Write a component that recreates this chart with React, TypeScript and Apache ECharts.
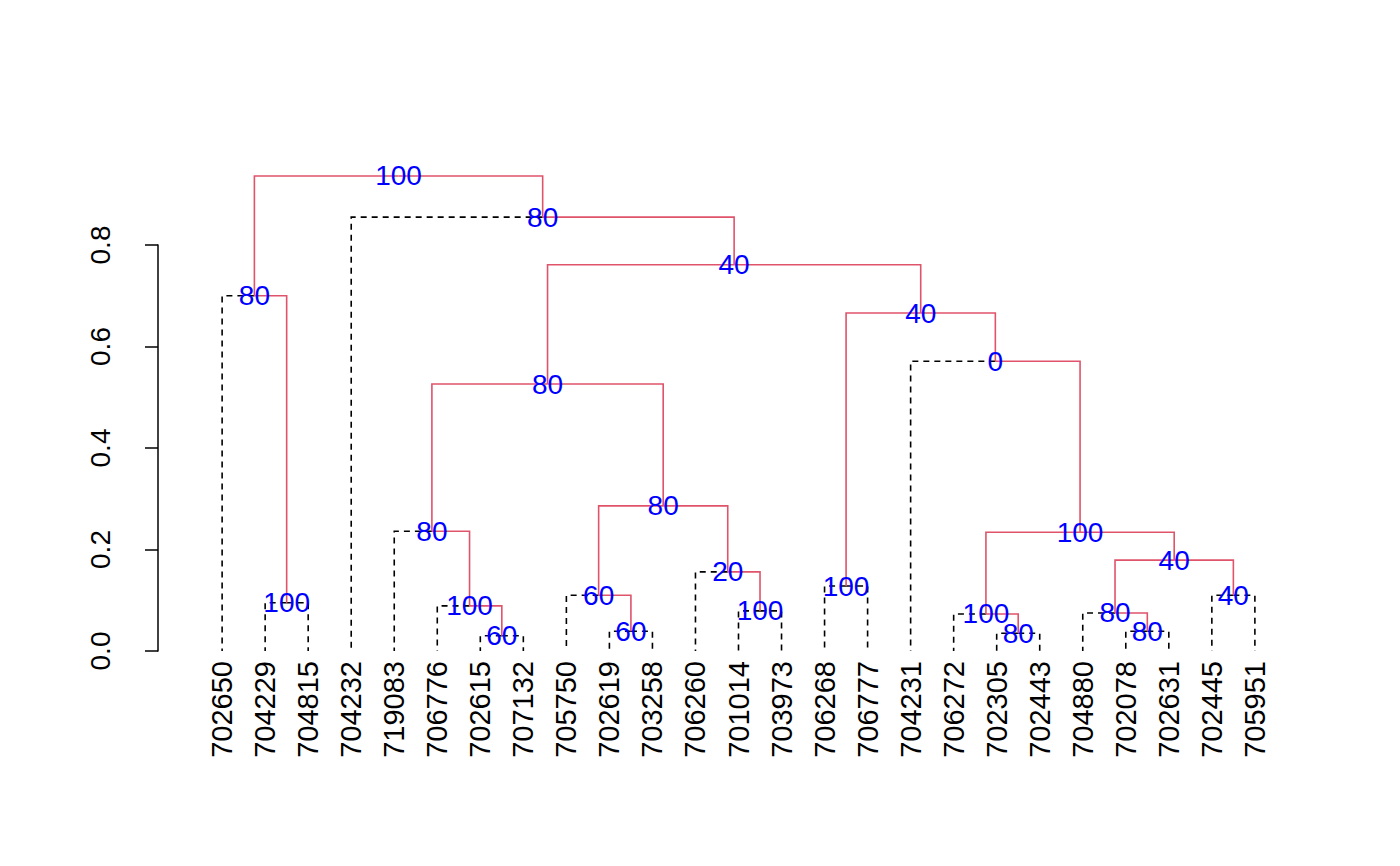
import { useEffect, useRef } from 'react';
import * as echarts from 'echarts';

const leaves = [
  '702650', '704229', '704815', '704232', '719083', '706776', '702615', '707132',
  '705750', '702619', '703258', '706260', '701014', '703973', '706268', '706777',
  '704231', '706272', '702305', '702443', '704880', '702078', '702631', '702445', '705951',
];

// id, left child, right child, merge height, bootstrap label
const merges: [string, string, string, number, number][] = [
  ['A', '704229', '704815', 0.095, 100],
  ['B', '702650', 'A', 0.70, 80],
  ['P1', '702615', '707132', 0.030, 60],
  ['P2', '706776', 'P1', 0.089, 100],
  ['P3', '719083', 'P2', 0.236, 80],
  ['Q1', '702619', '703258', 0.039, 60],
  ['Q2', '705750', 'Q1', 0.110, 60],
  ['R1', '701014', '703973', 0.079, 100],
  ['R2', '706260', 'R1', 0.156, 20],
  ['QR', 'Q2', 'R2', 0.286, 80],
  ['E', 'P3', 'QR', 0.526, 80],
  ['S', '706268', '706777', 0.128, 100],
  ['T1', '702305', '702443', 0.035, 80],
  ['T2', '706272', 'T1', 0.073, 100],
  ['U1', '702078', '702631', 0.039, 80],
  ['U2', '704880', 'U1', 0.075, 80],
  ['V', '702445', '705951', 0.110, 40],
  ['W', 'U2', 'V', 0.179, 40],
  ['X', 'T2', 'W', 0.234, 100],
  ['Y', '704231', 'X', 0.571, 0],
  ['Z', 'S', 'Y', 0.666, 40],
  ['D', 'E', 'Z', 0.761, 40],
  ['C', '704232', 'D', 0.855, 80],
  ['root', 'B', 'C', 0.936, 100],
];

const RED = '#DF536B';
const FONT = 'Liberation Sans, Arial, sans-serif';

function App() {
  const ref = useRef<HTMLDivElement>(null);

  useEffect(() => {
    if (!ref.current) return;
    const chart = echarts.init(ref.current, undefined, { renderer: 'svg' });

    const pos: Record<string, [number, number]> = {};
    leaves.forEach((l, i) => { pos[l] = [i, 0]; });
    const edges: number[][] = [];
    const nodeLabels: (number | string)[][] = [];
    merges.forEach(([id, l, r, h, lab]) => {
      const x = (pos[l][0] + pos[r][0]) / 2;
      pos[id] = [x, h];
      [l, r].forEach((c) => {
        const isLeaf = leaves.includes(c) ? 1 : 0;
        edges.push([x, h, pos[c][0], pos[c][1], isLeaf]);
      });
      nodeLabels.push([x, h, String(lab)]);
    });
    const leafData = leaves.map((l, i) => [i, 0, l]);

    chart.setOption({
      animation: false,
      backgroundColor: '#fff',
      grid: { left: 150, right: 73, top: 237, bottom: 207 },
      xAxis: { type: 'value', min: -1.49, max: 25.49, show: false },
      yAxis: {
        type: 'value', min: 0, max: 0.8, interval: 0.2,
        splitLine: { show: false },
        axisLine: { show: true, onZero: false, lineStyle: { color: '#000', width: 1.5 } },
        axisTick: { show: true, length: 13, lineStyle: { color: '#000', width: 1.5 } },
        axisLabel: {
          rotate: 90, margin: 44, color: '#000', fontSize: 28, fontFamily: FONT,
          formatter: (v: number) => v.toFixed(1),
        },
      },
      series: [
        {
          type: 'custom', clip: false, data: edges,
          renderItem: (_p: any, api: any) => {
            const p1 = api.coord([api.value(0), api.value(1)]);
            const p2 = api.coord([api.value(2), api.value(1)]);
            const p3 = api.coord([api.value(2), api.value(3)]);
            const leaf = api.value(4) === 1;
            return {
              type: 'polyline',
              shape: { points: [p1, p2, p3] },
              style: {
                stroke: leaf ? '#000' : RED, lineWidth: 1.6, fill: 'none',
                lineDash: leaf ? [6, 5] : null,
              },
            };
          },
        },
        {
          type: 'custom', clip: false, data: nodeLabels, z: 5,
          renderItem: (_p: any, api: any) => {
            const p = api.coord([api.value(0), api.value(1)]);
            return {
              type: 'text', x: p[0], y: p[1],
              style: {
                text: String(api.value(2)), fill: '#0000FF', fontSize: 28, fontFamily: FONT,
                align: 'center', verticalAlign: 'middle',
              },
            };
          },
        },
        {
          type: 'custom', clip: false, data: leafData,
          encode: { x: 0, y: 1 },
          renderItem: (_p: any, api: any) => {
            const p = api.coord([api.value(0), 0]);
            return {
              type: 'text', x: p[0], y: p[1] + 10, rotation: Math.PI / 2,
              style: {
                text: String(leaves[api.value(0) as number]), fill: '#000', fontSize: 29,
                fontFamily: FONT, align: 'right', verticalAlign: 'middle',
              },
            };
          },
        },
      ],
    });
    return () => chart.dispose();
  }, []);

  return <div ref={ref} style={{ width: 1384, height: 850 }} />;
}

export default App;
